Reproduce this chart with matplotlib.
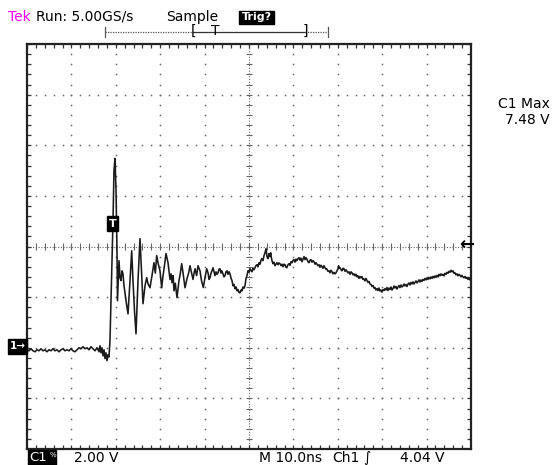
import numpy as np
import matplotlib
matplotlib.use("Agg")
import matplotlib.pyplot as plt
from matplotlib.patches import Rectangle

# Captured waveform (time from left edge in ns, volts)
time_ns = [0, 0.45, 0.90, 1.35, 1.80, 2.25, 2.70, 3.15, 3.60, 4.05, 4.50, 4.95, 5.41, 5.86,
           6.31, 6.76, 7.21, 7.66, 8.11, 8.56, 9.01, 9.46, 9.91, 10.36, 10.81, 11.26, 11.71,
           12.16, 12.61, 13.06, 13.51, 13.96, 14.41, 14.86, 15.32, 15.77, 16.22, 16.44, 16.67,
           16.89, 17.12, 17.34, 17.57, 17.79, 18.02, 18.24, 18.47, 18.69, 18.92, 19.14, 19.37,
           19.59, 19.82, 20.05, 20.27, 20.38, 20.50, 20.72, 20.95, 21.17, 21.40, 21.62, 21.85,
           22.30, 22.75, 23.20, 23.58, 23.87, 24.21, 24.55, 25.00, 25.45, 25.79, 26.13, 26.58,
           26.96, 27.25, 27.70, 28.15, 28.60, 28.90, 29.21, 29.50, 29.95, 30.34, 30.60, 30.86,
           31.31, 31.76, 32.00, 32.21, 32.45, 32.66, 32.90, 33.11, 33.40, 33.78, 34.23, 34.50,
           34.84, 35.14, 35.59, 36.04, 36.40, 36.71, 37.05, 37.39, 37.60, 37.84, 38.20, 38.51,
           38.96, 39.30, 39.71, 40.09, 40.47, 40.77, 41.00, 41.22, 41.45, 41.67, 41.89, 42.12,
           42.34, 42.57, 42.80, 43.02, 43.25, 43.47, 43.70, 43.85, 44.14, 44.37, 44.59, 44.82,
           45.05, 45.27, 45.50, 45.72, 45.95, 46.17, 46.40, 46.62, 46.85, 47.07, 47.30, 47.52,
           47.75, 47.97, 48.20, 48.42, 48.65, 48.87, 49.10, 49.32, 49.55, 49.77, 50.00, 50.23,
           50.45, 50.68, 50.90, 51.13, 51.35, 51.58, 51.80, 52.03, 52.25, 52.48, 52.70, 52.86,
           53.15, 53.38, 53.60, 53.83, 54.05, 54.28, 54.50, 54.70, 54.89, 55.05, 55.18, 55.41,
           55.63, 55.86, 56.08, 56.31, 56.53, 56.76, 56.98, 57.21, 57.43, 57.66, 57.88, 58.11,
           58.33, 58.49, 58.78, 59.01, 59.23, 59.46, 59.68, 59.91, 60.14, 60.36, 60.59, 60.74,
           61.04, 61.26, 61.49, 61.71, 61.94, 62.16, 62.39, 62.61, 62.84, 63.00, 63.29, 63.51,
           63.74, 63.96, 64.19, 64.41, 64.64, 64.87, 65.09, 65.25, 65.54, 65.77, 65.99, 66.22,
           66.44, 66.67, 66.89, 67.12, 67.34, 67.50, 67.79, 68.02, 68.24, 68.47, 68.69, 68.92,
           69.14, 69.37, 69.59, 69.82, 70.05, 70.16, 70.38, 70.50, 70.73, 70.95, 71.18, 71.40,
           71.63, 71.85, 72.08, 72.30, 72.52, 72.75, 72.97, 73.20, 73.42, 73.65, 73.87, 74.10,
           74.32, 74.55, 74.77, 75.00, 75.22, 75.45, 75.67, 75.90, 76.12, 76.35, 76.57, 76.80,
           77.03, 77.25, 77.48, 77.70, 77.93, 78.15, 78.38, 78.60, 78.83, 79.05, 79.28, 79.50,
           79.73, 79.95, 80.18, 80.41, 80.63, 80.86, 81.08, 81.31, 81.53, 81.76, 81.98, 82.21,
           82.43, 82.66, 82.88, 83.11, 83.33, 83.56, 83.78, 84.01, 84.23, 84.46, 84.68, 84.91,
           85.14, 85.36, 85.59, 85.81, 86.04, 86.26, 86.49, 86.71, 86.94, 87.16, 87.39, 87.61,
           87.84, 88.06, 88.29, 88.51, 88.74, 88.96, 89.19, 89.41, 89.64, 89.86, 90.09, 90.32,
           90.54, 90.77, 90.99, 91.22, 91.44, 91.67, 91.89, 92.12, 92.34, 92.57, 92.79, 93.02,
           93.24, 93.47, 93.69, 93.92, 94.14, 94.37, 94.59, 94.82, 95.04, 95.27, 95.49, 95.72,
           95.95, 96.17, 96.40, 96.62, 96.85, 97.07, 97.30, 97.52, 97.75, 97.97, 98.20, 98.42,
           98.65, 98.87, 99.10, 99.32, 99.55, 99.77, 100.0]
volts = [-0.08, -0.12, -0.04, -0.12, -0.16, -0.08, -0.12, -0.04, -0.12, -0.08, -0.16, -0.08,
         -0.12, -0.04, -0.12, -0.08, -0.16, -0.08, -0.04, -0.12, -0.08, -0.12, -0.04, -0.12,
         -0.16, -0.08, 0.00, -0.04, 0.04, -0.04, 0.00, -0.08, 0.04, -0.04, -0.12, 0.00, -0.16,
         0.08, -0.20, 0.00, -0.32, -0.08, -0.43, -0.20, -0.51, -0.28, -0.36, 0.28, 1.86, 3.44,
         5.02, 7.00, 7.48, 6.20, 3.83, 1.86, 2.45, 3.44, 2.77, 2.65, 3.04, 2.92, 2.45, 1.86,
         1.34, 2.65, 3.83, 2.65, 1.46, 0.55, 2.65, 4.31, 3.04, 1.74, 2.45, 2.77, 2.53, 2.37,
         2.85, 3.36, 2.95, 3.64, 3.36, 3.04, 2.37, 2.80, 3.12, 3.72, 3.36, 3.00, 2.70, 2.92,
         2.57, 2.85, 2.25, 2.55, 1.98, 2.65, 2.90, 3.32, 2.96, 2.37, 2.73, 2.95, 3.24, 2.96,
         2.70, 2.92, 3.12, 2.85, 3.24, 3.04, 2.65, 2.38, 2.77, 3.12, 2.96, 2.70, 2.77, 2.95,
         3.04, 3.16, 3.00, 2.85, 3.00, 2.90, 2.96, 3.10, 3.12, 2.95, 3.04, 2.92, 2.80, 2.85,
         3.00, 3.04, 2.90, 3.00, 2.92, 2.75, 2.65, 2.45, 2.50, 2.33, 2.40, 2.25, 2.30, 2.18,
         2.17, 2.28, 2.25, 2.40, 2.35, 2.45, 2.73, 2.85, 3.04, 2.98, 3.12, 3.05, 3.00, 3.15,
         3.08, 3.16, 3.25, 3.28, 3.20, 3.36, 3.30, 3.45, 3.52, 3.44, 3.64, 3.75, 3.91, 3.60,
         3.52, 3.72, 3.60, 3.75, 3.55, 3.44, 3.32, 3.38, 3.24, 3.30, 3.36, 3.28, 3.35, 3.32,
         3.24, 3.30, 3.20, 3.30, 3.28, 3.18, 3.16, 3.28, 3.32, 3.26, 3.40, 3.36, 3.45, 3.48,
         3.38, 3.50, 3.44, 3.52, 3.56, 3.46, 3.54, 3.40, 3.50, 3.60, 3.48, 3.56, 3.52, 3.40,
         3.36, 3.46, 3.48, 3.38, 3.44, 3.40, 3.30, 3.36, 3.32, 3.24, 3.28, 3.18, 3.26, 3.20,
         3.14, 3.24, 3.16, 3.10, 3.12, 3.02, 3.04, 2.96, 3.06, 3.00, 2.92, 2.98, 2.92, 2.96,
         3.04, 3.12, 3.24, 3.14, 3.16, 3.08, 3.04, 3.14, 3.12, 3.02, 3.08, 3.02, 2.96, 3.00,
         2.90, 3.00, 2.96, 2.88, 2.92, 2.84, 2.90, 2.80, 2.84, 2.74, 2.82, 2.76, 2.81, 2.70,
         2.72, 2.64, 2.74, 2.66, 2.58, 2.62, 2.52, 2.50, 2.42, 2.46, 2.36, 2.38, 2.28, 2.34,
         2.26, 2.36, 2.24, 2.28, 2.20, 2.30, 2.26, 2.34, 2.28, 2.38, 2.26, 2.36, 2.30, 2.40,
         2.28, 2.34, 2.44, 2.36, 2.42, 2.32, 2.40, 2.46, 2.38, 2.48, 2.40, 2.44, 2.52, 2.44,
         2.50, 2.42, 2.52, 2.56, 2.48, 2.58, 2.52, 2.60, 2.52, 2.58, 2.64, 2.56, 2.62, 2.68,
         2.60, 2.68, 2.62, 2.70, 2.66, 2.74, 2.68, 2.76, 2.70, 2.78, 2.72, 2.80, 2.74, 2.82,
         2.76, 2.84, 2.78, 2.86, 2.80, 2.90, 2.84, 2.92, 2.86, 2.90, 2.84, 2.94, 2.90, 2.98,
         2.94, 3.02, 2.98, 3.06, 3.00, 3.04, 2.94, 2.96, 2.88, 2.92, 2.84, 2.90, 2.86, 2.80,
         2.86, 2.80, 2.76, 2.82, 2.74, 2.78, 2.70, 2.74, 2.68, 2.70]

# Scope settings shown on screen
ns_per_div = 10.0
volts_per_div = 2.0
center_volts = 4.0
trigger_time = 19.4
trigger_level = 4.04
c1_max = 7.48

header = "Run: 5.00GS/s"
acq_mode = "Sample"
trig_state = "Trig?"
footer_left = "2.00 V"
footer_time = "M 10.0ns"
footer_src = "Ch1"
footer_level = "4.04 V"

W, H = 552, 465
fig = plt.figure(figsize=(W / 100, H / 100), dpi=100)
fig.patch.set_facecolor("white")

# graticule box in pixels: x 27..471, y 44..449
ax = fig.add_axes([27 / W, (H - 449) / H, 444 / W, 405 / H])
x0, x1 = 0, 10 * ns_per_div
y0, y1 = center_volts - 4 * volts_per_div, center_volts + 4 * volts_per_div
ax.set_xlim(x0, x1)
ax.set_ylim(y0, y1)
ax.set_xticks([])
ax.set_yticks([])
for sp in ax.spines.values():
    sp.set_linewidth(1.6)
    sp.set_color("#222222")

grid_col = "#666666"
xminor = np.arange(x0, x1 + 0.01, ns_per_div / 5)
yminor = np.arange(y0, y1 + 0.01, volts_per_div / 5)

# dotted major grid lines
for gx in np.arange(x0 + ns_per_div, x1, ns_per_div):
    if abs(gx - 50) < 1e-6:
        continue
    ax.plot([gx] * len(yminor), yminor, ls="none", marker="s", ms=1.1,
            color=grid_col, mew=0)
for gy in np.arange(y0 + volts_per_div, y1, volts_per_div):
    if abs(gy - center_volts) < 1e-6:
        continue
    ax.plot(xminor, [gy] * len(xminor), ls="none", marker="s", ms=1.1,
            color=grid_col, mew=0)

# center cross with tick marks
ax.axhline(center_volts, color=grid_col, lw=0.8, ls=(0, (1, 1.5)))
ax.axvline(50, color=grid_col, lw=0.8, ls=(0, (1, 1.5)))
tick_v = 0.12
tick_t = 0.7
ax.vlines(xminor, center_volts - tick_v, center_volts + tick_v, color=grid_col, lw=0.8)
ax.hlines(yminor, 50 - tick_t, 50 + tick_t, color=grid_col, lw=0.8)

# border ticks pointing inward
ax.vlines(xminor, y1 - 0.16, y1, color="#333333", lw=0.9)
ax.vlines(xminor, y0, y0 + 0.16, color="#333333", lw=0.9)
ax.hlines(yminor, x0, x0 + 0.9, color="#333333", lw=0.9)
ax.hlines(yminor, x1 - 0.9, x1, color="#333333", lw=0.9)

# the trace
ax.plot(time_ns, volts, color="#1a1a1a", lw=1.15, zorder=5)

# overlay in pixel coordinates for the screen annotations
ov = fig.add_axes([0, 0, 1, 1], zorder=10)
ov.set_xlim(0, W)
ov.set_ylim(H, 0)
ov.axis("off")
ov.patch.set_alpha(0)

fs = 10
fam = "DejaVu Sans"


def px_x(t):
    return 27 + (t - x0) / (x1 - x0) * 444


def px_y(v):
    return 449 - (v - y0) / (y1 - y0) * 405


ov.text(8, 17, "Tek", color="#ff00ff", fontsize=fs, family=fam, va="center")
ov.text(36, 17, header, color="black", fontsize=fs, family=fam, va="center")
ov.text(166, 17, acq_mode, color="black", fontsize=fs, family=fam, va="center")
ov.add_patch(Rectangle((239, 11), 35, 13, color="black"))
ov.text(256.5, 17.5, trig_state, color="white", fontsize=8, family=fam,
        va="center", ha="center", fontweight="bold")

# record position bar
ov.plot([105, 194], [32, 32], color="#555555", lw=0.9, ls=(0, (1, 1)))
ov.plot([194, 305], [32, 32], color="#333333", lw=0.9)
ov.plot([305, 328], [32, 32], color="#555555", lw=0.9, ls=(0, (1, 1)))
ov.plot([105, 105], [27, 37], color="#555555", lw=0.9)
ov.plot([328, 328], [27, 37], color="#555555", lw=0.9)
ov.text(194, 31, "[", fontsize=fs, family=fam, ha="center", va="center")
ov.text(305, 31, "]", fontsize=fs, family=fam, ha="center", va="center")
ov.text(215, 31, "T", fontsize=fs, family=fam, ha="center", va="center")

# trigger marker on the trace
tx = px_x(trigger_time)
ov.add_patch(Rectangle((tx - 6, 216), 11, 15, color="black"))
ov.text(tx - 0.5, 223.5, "T", color="white", fontsize=8, family=fam,
        ha="center", va="center", fontweight="bold")

# ground marker
gy = px_y(0)
ov.add_patch(Rectangle((8, gy - 9), 19, 15, color="black"))
ov.text(17.5, gy - 1.5, "1\u2192", color="white", fontsize=7.5, family=fam,
        ha="center", va="center", fontweight="bold")

# trigger level arrow at right
ov.text(467, px_y(trigger_level) - 1, "\u2190", color="black", fontsize=13, family=fam,
        ha="center", va="center", fontweight="bold")

# measurement readout
ov.text(550, 104, "C1 Max", fontsize=fs, family=fam, ha="right", va="center")
ov.text(550, 120, f"{c1_max:.2f} V", fontsize=fs, family=fam, ha="right", va="center")

# footer
ov.add_patch(Rectangle((28, 450), 28, 15, color="black"))
ov.text(29, 457.5, "C1", color="white", fontsize=9.5, family=fam, va="center")
ov.text(49.5, 455, "%", color="white", fontsize=5, family=fam, va="center")
ov.text(74, 457.5, footer_left, fontsize=fs, family=fam, va="center")
ov.text(259, 457.5, footer_time, fontsize=fs, family=fam, va="center")
ov.text(332, 457.5, footer_src, fontsize=fs, family=fam, va="center")
ov.text(367, 457.5, "\u222b", fontsize=fs, family=fam, va="center", ha="center")
ov.text(400, 457.5, footer_level, fontsize=fs, family=fam, va="center")

fig.savefig("out.png", dpi=100)
